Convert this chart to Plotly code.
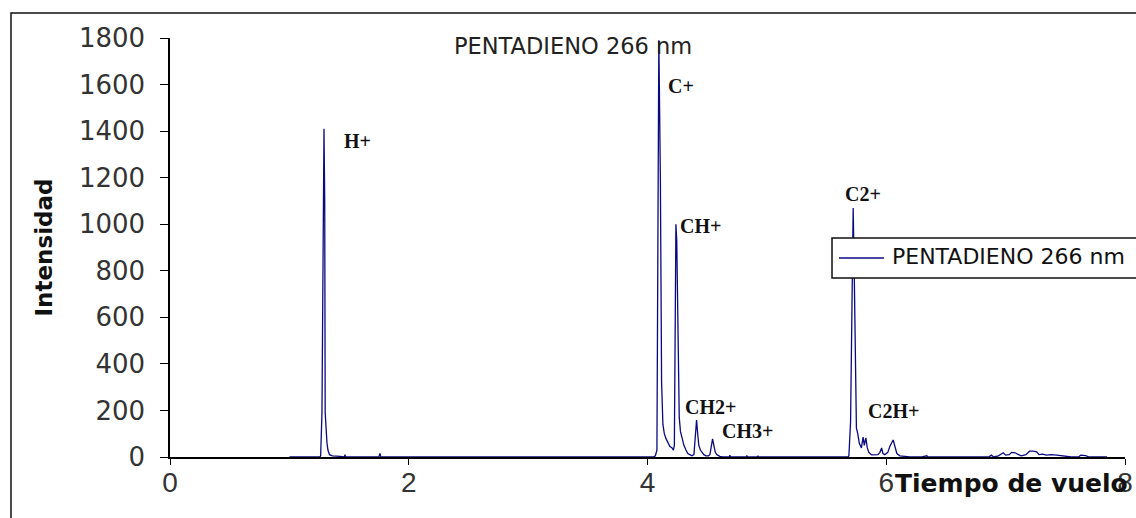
import plotly.graph_objects as go

# ---- data (time of flight, intensity) ----
tiempo = [1.00, 1.255, 1.262, 1.273, 1.290, 1.296, 1.300, 1.307, 1.315, 1.323, 1.336, 1.36, 1.40, 1.424, 1.46,
          1.466, 1.47, 1.75, 1.759, 1.766,
          4.05, 4.066, 4.079, 4.090, 4.095, 4.108, 4.118, 4.129, 4.141, 4.154, 4.171, 4.188, 4.204, 4.217,
          4.225, 4.233, 4.238, 4.245, 4.255, 4.266, 4.276, 4.288, 4.305, 4.322, 4.338, 4.355, 4.372, 4.389,
          4.401, 4.411, 4.422, 4.430, 4.443, 4.456, 4.472, 4.490, 4.510, 4.523, 4.535, 4.545, 4.556, 4.568,
          4.581, 4.606, 4.63, 4.685, 4.690, 4.695, 4.827, 4.832, 4.837, 4.920, 4.925, 4.930,
          5.68, 5.687, 5.701, 5.712, 5.723, 5.733, 5.740, 5.750, 5.761, 5.774, 5.792, 5.806, 5.816, 5.829,
          5.841, 5.854, 5.877, 5.905, 5.930, 5.947, 5.961, 5.972, 5.988, 6.013, 6.030, 6.058, 6.072, 6.089,
          6.114, 6.156, 6.198, 6.30, 6.34, 6.35, 6.86, 6.88, 6.90, 6.94, 6.96, 6.98, 7.00, 7.03, 7.05, 7.08,
          7.10, 7.13, 7.17, 7.20, 7.23, 7.26, 7.28, 7.31, 7.34, 7.38, 7.43, 7.47, 7.52, 7.55, 7.61, 7.63,
          7.67, 7.70, 7.85]
intensidad = [0, 0, 5, 190, 1410, 1100, 190, 107, 60, 30, 10, 5, 5, 3, 0,
              10, 0, 0, 15, 0,
              0, 5, 30, 1460, 1790, 1190, 322, 140, 100, 80, 60, 45, 40, 30,
              50, 600, 1000, 930, 620, 170, 110, 80, 50, 30, 15, 10, 5, 10,
              100, 159, 90, 50, 30, 20, 10, 5, 5, 10, 50, 78, 50, 20,
              10, 3, 0, 0, 8, 0, 0, 6, 0, 0, 5, 0,
              0, 5, 150, 700, 1070, 750, 404, 125, 100, 60, 39, 86, 50, 82,
              40, 20, 9, 8, 10, 20, 39, 15, 10, 20, 45, 73, 40, 15,
              5, 3, 0, 0, 5, 0, 0, 8, 0, 5, 12, 18, 8, 10, 20, 18,
              12, 5, 10, 25, 25, 22, 10, 12, 8, 10, 8, 5, 3, 0, 0, 8,
              6, 0, 0]

x_ticks = [0, 2, 4, 6, 8]
y_ticks = [0, 200, 400, 600, 800, 1000, 1200, 1400, 1600, 1800]

ion_labels = ["H+", "C+", "CH+", "C2+", "CH2+", "CH3+", "C2H+"]
ion_x = [1.441, 4.155, 4.256, 5.638, 4.297, 4.607, 5.830]
ion_y = [1357, 1594, 992, 1130, 215, 112, 198]

serie = "PENTADIENO 266 nm"
line_color = "#0a0a80"

fig = go.Figure()
fig.add_trace(go.Scatter(
    x=tiempo, y=intensidad, mode="lines", name=serie,
    line=dict(color=line_color, width=1.3), showlegend=False,
))

sans = "DejaVu Sans"
fig.update_layout(
    width=1136, height=518,
    margin=dict(l=170, r=11, t=38, b=61),
    paper_bgcolor="white", plot_bgcolor="white",
    showlegend=False,
    xaxis=dict(
        range=[0, 8], tickvals=x_ticks, ticktext=[str(v) for v in x_ticks],
        automargin=False,
        showgrid=False, zeroline=False,
        showline=True, linecolor="black", linewidth=1.5,
        ticks="outside", ticklen=6, tickcolor="black",
        ticklabelstandoff=-6,
        tickfont=dict(family="Liberation Sans", size=28, color="#333"),
    ),
    yaxis=dict(
        range=[0, 1800], tickvals=y_ticks,
        automargin=False,
        showgrid=False, zeroline=False,
        showline=True, linecolor="black", linewidth=1.5,
        ticks="outside", ticklen=8, tickcolor="black",
        ticklabelstandoff=10,
        tickfont=dict(family=sans, size=26, color="#333"),
        title=dict(text="Intensidad", font=dict(family=sans, size=23, color="#111", weight="bold"),
                   standoff=20),
    ),
)

# outer frame of the original chart
fig.add_shape(type="rect", xref="paper", yref="paper",
              x0=-0.1665, x1=1.03, y0=-0.18, y1=1.0597,
              line=dict(color="#111", width=1.5), fillcolor="rgba(0,0,0,0)", layer="below")

# legend box (drawn like the original, running past the right edge)
fig.add_shape(type="rect", xref="paper", yref="paper",
              x0=0.6932, x1=1.03, y0=0.4272, y1=0.5227,
              line=dict(color="#111", width=1.5), fillcolor="white", layer="above")
fig.add_shape(type="line", xref="paper", yref="paper",
              x0=0.7005, x1=0.7476, y0=0.4749, y1=0.4749,
              line=dict(color=line_color, width=1.5), layer="above")
fig.add_annotation(x=0.7539, y=0.4785, xref="paper", yref="paper", text=serie, showarrow=False,
                   xanchor="left", yanchor="middle",
                   font=dict(family=sans, size=22, color="#111"))

# top caption
fig.add_annotation(x=0.4215, y=0.981, xref="paper", yref="paper", text=serie, showarrow=False,
                   xanchor="center", yanchor="middle",
                   font=dict(family=sans, size=22.5, color="#222"))

# x-axis title at the right end
fig.add_annotation(x=0.757, y=-0.064, xref="paper", yref="paper", text="Tiempo de vuelo",
                   showarrow=False, xanchor="left", yanchor="middle",
                   font=dict(family=sans, size=25, color="#111", weight="bold"))

# ion labels
for lab, xx, yy in zip(ion_labels, ion_x, ion_y):
    fig.add_annotation(x=xx, y=yy, xref="x", yref="y", text=lab, showarrow=False,
                       xanchor="left", yanchor="middle",
                       font=dict(family="Liberation Serif", size=20, color="#111", weight="bold"))

fig.write_html("out.html")
